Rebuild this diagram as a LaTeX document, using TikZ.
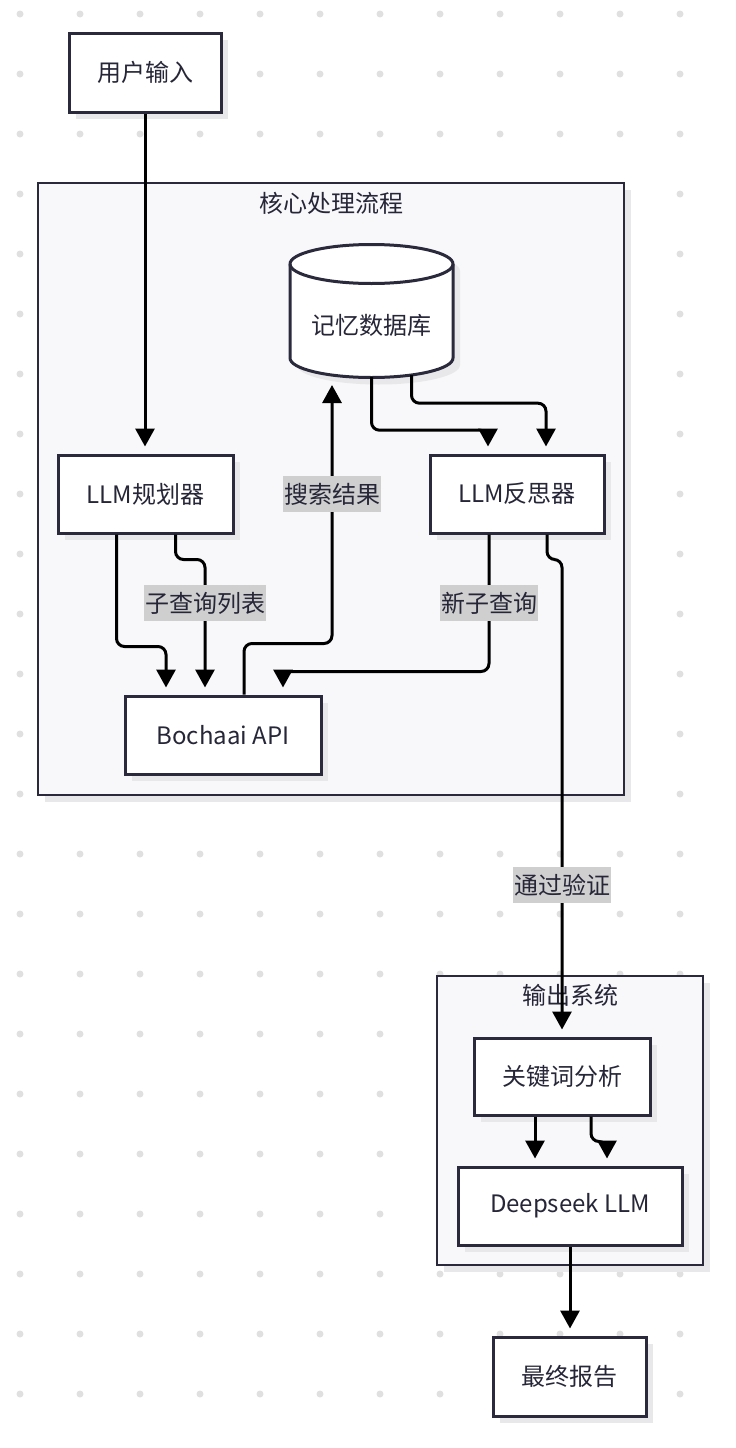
\documentclass[tikz,border=0pt]{standalone}
\usepackage{fontspec}
\setmainfont{Noto Sans CJK SC}
\usetikzlibrary{positioning,arrows.meta,shadows}

\definecolor{inkline}{HTML}{2A2A3C}
\definecolor{inktext}{HTML}{262638}
\definecolor{gridgray}{HTML}{E0E0E0}
\definecolor{shadegray}{HTML}{E8E8EA}
\definecolor{clusterbg}{HTML}{F8F8FB}
\definecolor{lblgray}{HTML}{CFCFCF}

\tikzset{
  procbox/.style={draw=inkline, line width=3pt, fill=white, text=inktext, inner sep=0pt,
    drop shadow={shadow xshift=7pt, shadow yshift=-7pt, fill=shadegray, opacity=1}},
  groupbox/.style={draw=inkline, line width=2.8pt, fill=clusterbg,
    drop shadow={shadow xshift=7pt, shadow yshift=-7pt, fill=shadegray, opacity=1}},
  grouptitle/.style={text=inktext, inner sep=0pt},
  flow/.style={draw=black, line width=3pt, rounded corners=8pt,
    -{Triangle[length=18pt,width=19pt]}, shorten >=7pt},
  edgetag/.style={fill=lblgray, text=inktext, inner xsep=1pt, inner ysep=0pt, minimum height=36pt},
}

% outline of the memory drum (cylinder)
\newcommand{\memdrum}[1]{%
  \path[#1] (290,264) -- (290,358) arc[start angle=180,end angle=0,x radius=81.5,y radius=19.5]
    -- (453,264) arc[start angle=0,end angle=-180,x radius=81.5,y radius=19.5] -- cycle;}

\begin{document}
\begin{tikzpicture}[x=1pt, y=-1pt, font=\fontsize{24pt}{28pt}\selectfont]
\useasboundingbox (0,0) rectangle (736,1448);
\fill[white] (0,0) rectangle (736,1448);
% dotted grid
\foreach \gx in {20,80,...,680} {
  \foreach \gy in {14,74,...,1394} {
    \fill[gridgray] (\gx,\gy) circle[radius=3.5pt];
  }
}
% clusters
\node[groupbox, minimum width=586pt, minimum height=612pt] (core) at (331,489) {};
\node[groupbox, minimum width=266pt, minimum height=289pt] (outsys) at (570,1120.5) {};
\node[grouptitle] (coretitle) at (331,203) {核心处理流程};
\node[grouptitle] (outtitle) at (570,995) {输出系统};

% memory store
\begin{scope}[shift={(7,7)}]
  \memdrum{fill=shadegray}
\end{scope}
\memdrum{fill=white, draw=inkline, line width=3pt}
\draw[inkline, line width=3pt] (290,264) arc[start angle=180,end angle=0,x radius=81.5,y radius=19.5];
\node[text=inktext, minimum width=163pt, minimum height=104pt, inner sep=0pt] (mem) at (371.5,325) {记忆数据库};
\coordinate (memin) at (332,378);

% process nodes
\node[procbox, minimum width=152pt, minimum height=79pt] (inp) at (145,72.5) {用户输入};
\node[procbox, minimum width=175pt, minimum height=78pt] (plan) at (145.5,494) {LLM规划器};
\node[procbox, minimum width=174pt, minimum height=78pt] (refl) at (517,494) {LLM反思器};
\node[procbox, minimum width=196pt, minimum height=78pt] (api) at (223,735) {Bochaai API};
\node[procbox, minimum width=176pt, minimum height=77pt] (kw) at (562,1076.5) {关键词分析};
\node[procbox, minimum width=224pt, minimum height=78pt] (deep) at (570,1206) {Deepseek LLM};
\node[procbox, minimum width=153pt, minimum height=79pt] (fin) at (569.5,1376.5) {最终报告};

% connectors
\draw[flow] (inp.south) -- (inp.south |- plan.north);
\draw[flow] (mem.south) -- ++(0,53) -| ([xshift=-29pt]refl.north);
\draw[flow] ([xshift=40pt,yshift=2pt]mem.south) -- ++(0,28) -| ([xshift=29pt]refl.north);
\draw[flow] ([xshift=-29pt]plan.south) -- ++(0,112) -| ([xshift=-57pt]api.north);
\draw[flow] ([xshift=30pt]plan.south) -- ++(0,25) -| ([xshift=-18pt]api.north);
\draw[flow] ([xshift=21pt]api.north) -- ++(0,-51) -| (memin);
\draw[flow] ([xshift=-28pt]refl.south) -- ++(0,137) -| ([xshift=60pt]api.north);
\draw[flow] ([xshift=30pt]refl.south) -- ++(0,25) -| (kw.north);
\draw[flow] ([xshift=-27pt]kw.south) -- ([xshift=-35pt]deep.north);
\draw[flow] ([xshift=29pt]kw.south) -- ++(0,25) -| ([xshift=37pt]deep.north);
\draw[flow] (deep.south) -- (deep.south |- fin.north);

% edge labels
\node[edgetag] (tagsub) at (205,603) {子查询列表};
\node[edgetag] (tagres) at (332,494) {搜索结果};
\node[edgetag] (tagnew) at (489,603) {新子查询};
\node[edgetag] (tagpass) at (562,885) {通过验证};
\end{tikzpicture}
\end{document}
